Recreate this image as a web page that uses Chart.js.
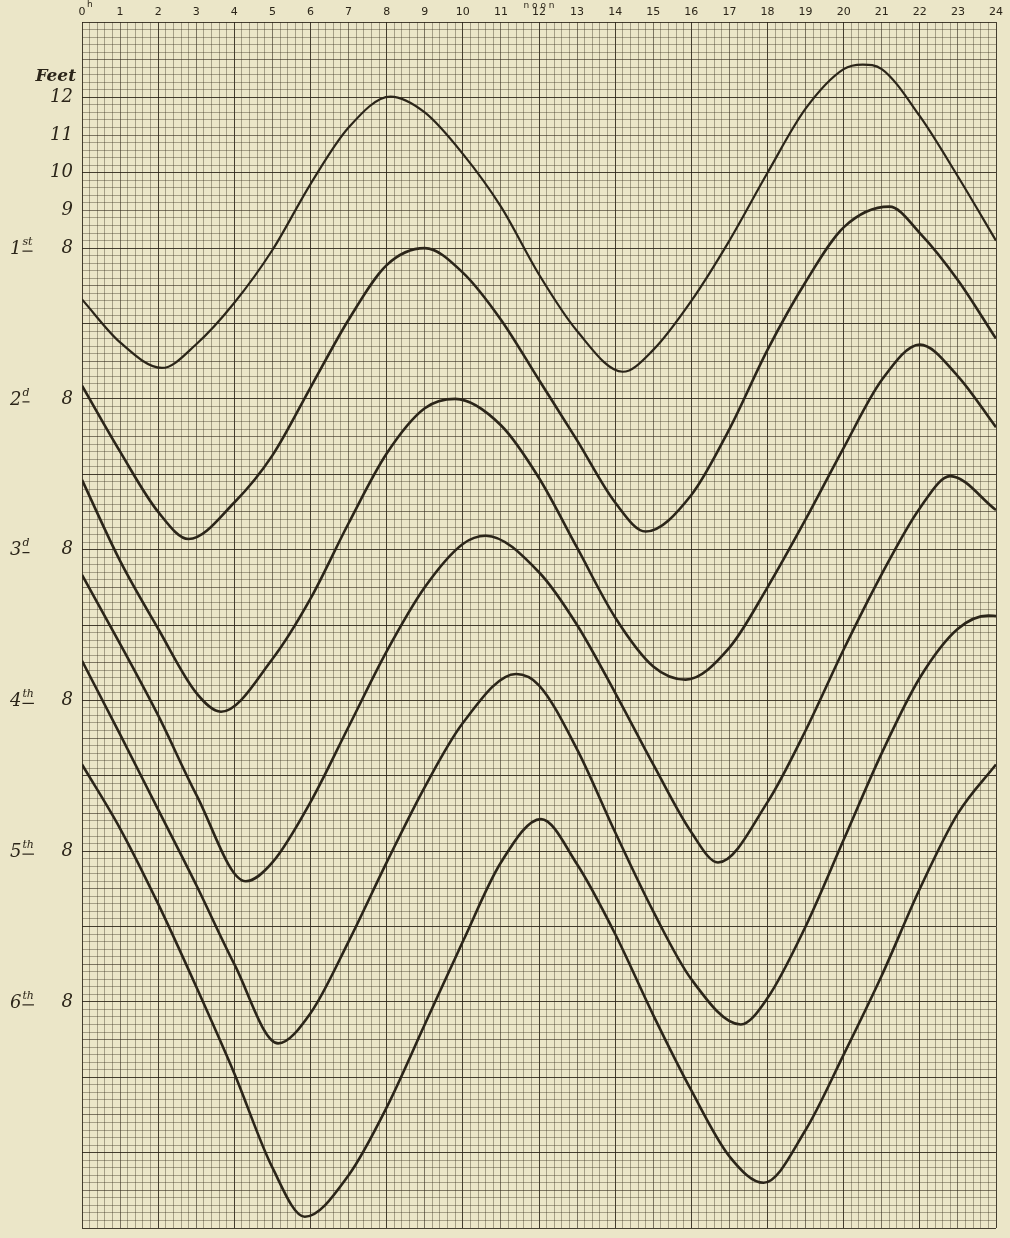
<!DOCTYPE html>
<html>
<head>
<meta charset="utf-8">
<script src="https://cdn.jsdelivr.net/npm/chart.js@4.4.1/dist/chart.umd.min.js"></script>
<style>
  html, body { margin: 0; padding: 0; background: #ebe6c8; }
</style>
</head>
<body>
<canvas id="tideChart" width="1010" height="1238"></canvas>
<script>
// tide heights in feet, one record per day
const hours1 = [0, 1, 2.1, 3, 4, 5, 6, 7, 8.1, 9, 10, 11, 12, 13, 14.2, 15, 16, 17, 18, 19, 20, 20.5, 21, 22, 23, 24];
const feet1  = [6.64, 5.5, 4.82, 5.45, 6.55, 7.95, 9.7, 11.2, 12.02, 11.6, 10.5, 9.1, 7.3, 5.8, 4.72, 5.3, 6.6, 8.2, 10.0, 11.7, 12.75, 12.87, 12.75, 11.5, 9.9, 8.2];

const hours2 = [0, 1, 2, 2.8, 4, 5, 6, 7, 8, 9, 10, 11, 12, 13, 14, 14.8, 16, 17, 18, 19, 20, 21.2, 22, 23, 24];
const feet2  = [8.35, 6.6, 5.0, 4.28, 5.25, 6.5, 8.3, 10.1, 11.55, 12.0, 11.35, 10.1, 8.5, 6.9, 5.25, 4.48, 5.45, 7.2, 9.3, 11.1, 12.55, 13.1, 12.4, 11.15, 9.6];

const hours3 = [0, 1, 2, 3, 3.65, 5, 6, 7, 8, 9, 9.8, 11, 12, 13, 14, 15, 15.85, 17, 18, 19, 20, 21, 22, 23, 24];
const feet3  = [9.85, 7.7, 5.9, 4.2, 3.7, 5.1, 6.7, 8.7, 10.55, 11.75, 12.0, 11.3, 9.9, 8.05, 6.2, 4.9, 4.55, 5.4, 7.0, 8.8, 10.7, 12.5, 13.44, 12.6, 11.25];

const hours4 = [0, 1, 2, 3, 4.3, 5, 6, 7, 8, 9, 10, 10.6, 12, 13, 14, 15, 16, 16.7, 18, 19, 20, 21, 22, 22.8, 24];
const feet4  = [11.33, 9.5, 7.6, 5.5, 3.2, 3.7, 5.3, 7.3, 9.3, 11.0, 12.15, 12.37, 11.4, 10.0, 8.2, 6.3, 4.5, 3.7, 5.3, 7.2, 9.35, 11.35, 13.1, 13.95, 13.05];

const hours5 = [0, 1, 2, 3, 4, 5.15, 6, 7, 8, 9, 10, 11.4, 12, 13, 14, 15, 16, 17.3, 18, 19, 20, 21, 22, 23, 23.8, 24];
const feet5  = [13.05, 11.1, 9.1, 7.1, 5.0, 2.9, 3.7, 5.6, 7.7, 9.7, 11.4, 12.7, 12.4, 10.7, 8.5, 6.4, 4.6, 3.4, 4.1, 6.0, 8.3, 10.6, 12.6, 13.9, 14.25, 14.24];

const hours6 = [0, 1, 2, 3, 4, 5, 5.85, 7, 8, 9, 10, 11, 12.05, 13, 14, 15, 16, 17, 17.9, 19, 20, 21, 22, 23, 24];
const feet6  = [14.3, 12.6, 10.6, 8.4, 6.1, 3.6, 2.3, 3.4, 5.2, 7.4, 9.6, 11.7, 12.85, 11.65, 9.8, 7.65, 5.65, 3.9, 3.2, 4.6, 6.6, 8.7, 11.0, 13.0, 14.3];

// each day is drawn 4 feet lower than the one before
const dayShiftFeet = [0, 4, 8, 12, 16, 20];
const dayNumber = ['1', '2', '3', '4', '5', '6'];
const daySuffix = ['st', 'd', 'd', 'th', 'th', 'th'];
const firstDayTicks = [12, 11, 10, 9, 8];
const refFoot = 8;

const allHours = [hours1, hours2, hours3, hours4, hours5, hours6];
const allFeet = [feet1, feet2, feet3, feet4, feet5, feet6];

const ink = '#2b2519';
const paper = '#ebe6c8';

function near(a, b) { return Math.abs(a - b) < 1e-6; }

function gridColor(ctx) {
    const r = Math.round(ctx.tick.value * 5);
    if (r % 10 === 0) return 'rgba(40,32,20,0.85)';
    if (r % 5 === 0) return 'rgba(50,42,28,0.6)';
    return 'rgba(60,52,35,0.4)';
}

const datasets = allHours.map(function (hrs, d) {
    return {
        label: dayNumber[d] + daySuffix[d],
        data: hrs.map(function (h, i) { return { x: h, y: allFeet[d][i] - dayShiftFeet[d] }; }),
        borderColor: ink,
        borderWidth: d === 0 ? 2.2 : 2.6,
        pointRadius: 0,
        fill: false,
        cubicInterpolationMode: 'monotone'
    };
});

// paper colour, handwritten day names and the little notes at the top
const paperLabels = {
    id: 'paperLabels',
    beforeDraw(chart) {
        const c = chart.ctx;
        c.save();
        c.fillStyle = paper;
        c.fillRect(0, 0, chart.width, chart.height);
        c.restore();
    },
    afterDraw(chart) {
        const c = chart.ctx;
        const x = chart.scales.x, y = chart.scales.y;
        c.save();
        c.fillStyle = ink;
        c.strokeStyle = ink;

        c.font = 'italic bold 17px "DejaVu Serif"';
        c.textAlign = 'right';
        c.textBaseline = 'middle';
        c.fillText('Feet', 76, y.getPixelForValue(12.55));

        dayNumber.forEach(function (n, i) {
            const py = y.getPixelForValue(refFoot - dayShiftFeet[i]);
            c.font = 'italic 18px "DejaVu Serif"';
            c.textAlign = 'left';
            c.textBaseline = 'middle';
            const x0 = 10;
            c.fillText(n, x0, py + 1);
            const w = c.measureText(n).width;
            c.font = 'italic 11px "DejaVu Serif"';
            c.fillText(daySuffix[i], x0 + w + 1, py - 6);
            const sw = c.measureText(daySuffix[i]).width;
            c.lineWidth = 1.2;
            c.beginPath();
            c.moveTo(x0 + w + 1, py + 3);
            c.lineTo(x0 + w + 1 + sw, py + 3);
            c.stroke();
        });

        c.font = '9px "DejaVu Sans"';
        c.textAlign = 'center';
        c.textBaseline = 'middle';
        c.fillText('n o o n', x.getPixelForValue(12), 6);
        c.textAlign = 'left';
        c.fillText('h', x.getPixelForValue(0) + 5, 5);
        c.restore();
    }
};

new Chart(document.getElementById('tideChart').getContext('2d'), {
    type: 'line',
    data: { datasets: datasets },
    options: {
        responsive: false,
        animation: false,
        layout: { padding: { left: 0, right: 14, top: 0, bottom: 10 } },
        plugins: { legend: { display: false }, tooltip: { enabled: false } },
        scales: {
            x: {
                type: 'linear',
                position: 'top',
                min: 0,
                max: 24,
                afterFit: function (s) { s.height = 22; },
                afterBuildTicks: function (s) {
                    const t = [];
                    for (let i = 0; i <= 120; i++) t.push({ value: i / 5 });
                    s.ticks = t;
                },
                grid: { color: gridColor, lineWidth: 1, drawTicks: false },
                border: { display: false },
                ticks: {
                    autoSkip: false,
                    maxRotation: 0,
                    padding: 3,
                    color: ink,
                    font: { family: 'DejaVu Sans', size: 11 },
                    callback: function (v) { return near(v, Math.round(v)) ? String(Math.round(v)) : ''; }
                }
            },
            y: {
                type: 'linear',
                min: -18,
                max: 14,
                afterFit: function (s) {
                    s.width = 82;
                    s.paddingTop = 0;
                    s.paddingBottom = 0;
                },
                afterBuildTicks: function (s) {
                    const t = [];
                    for (let i = -90; i <= 70; i++) t.push({ value: i / 5 });
                    s.ticks = t;
                },
                grid: { color: gridColor, lineWidth: 1, drawTicks: false },
                border: { display: false },
                ticks: {
                    autoSkip: false,
                    padding: 9,
                    color: ink,
                    font: { family: 'DejaVu Serif', size: 18, style: 'italic' },
                    callback: function (v) {
                        if (firstDayTicks.some(function (f) { return near(v, f); })) return String(Math.round(v));
                        if (dayShiftFeet.some(function (s) { return near(v, refFoot - s); })) return String(refFoot);
                        return '';
                    }
                }
            }
        }
    },
    plugins: [paperLabels]
});
</script>
</body>
</html>
